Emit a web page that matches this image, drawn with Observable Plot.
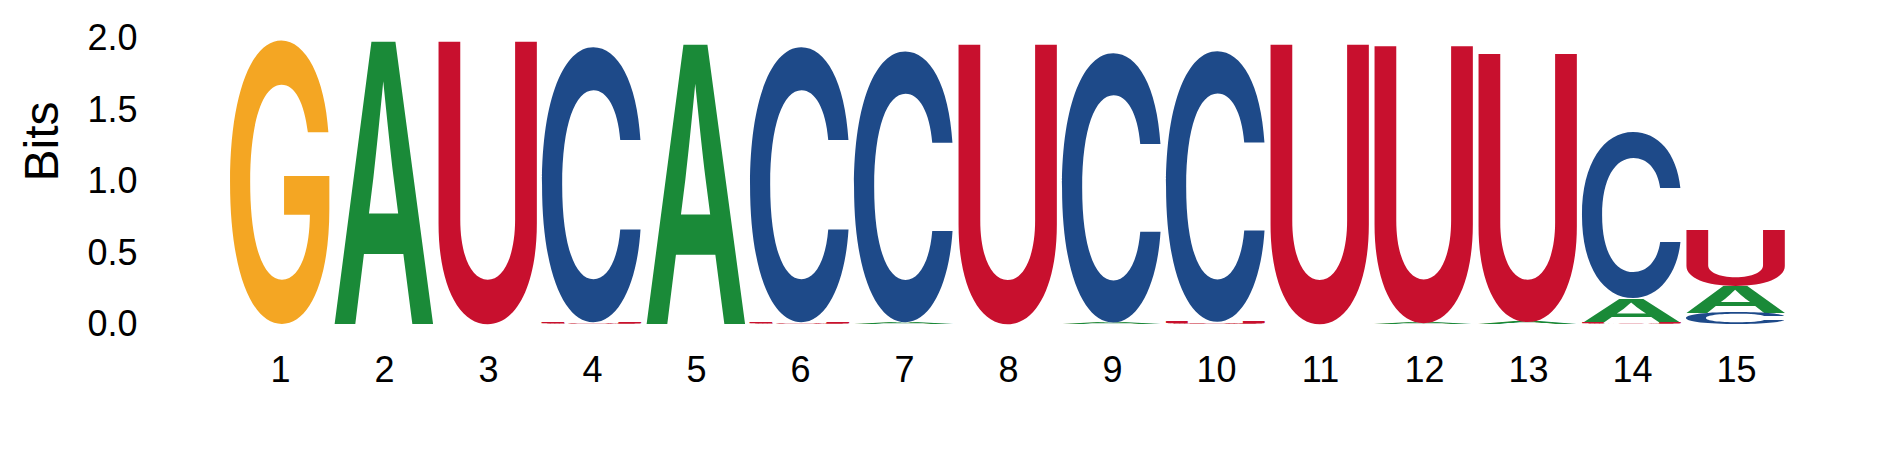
<!DOCTYPE html>
<html>
<head>
<meta charset="utf-8">
<script src="https://cdn.jsdelivr.net/npm/d3@7"></script>
<script src="https://cdn.jsdelivr.net/npm/@observablehq/plot@0.6"></script>
<style>
  html, body { margin: 0; padding: 0; background: #fff; }
  svg { display: block; }
</style>
</head>
<body>
<div id="chart"></div>
<script>
// Positions along the sequence
const positions = [1, 2, 3, 4, 5, 6, 7, 8, 9, 10, 11, 12, 13, 14, 15];
// Information content (bits) per nucleotide at each position
const bitsA = [0, 1.98, 0, 0, 1.96, 0, 0.012, 0, 0.01, 0, 0, 0.008, 0.015, 0.17, 0.19];
const bitsC = [0, 0, 0, 1.93, 0, 1.93, 1.90, 0, 1.89, 1.90, 0, 0, 0, 1.17, 0.08];
const bitsG = [1.99, 0, 0, 0, 0, 0, 0, 0, 0, 0, 0, 0, 0, 0, 0];
const bitsU = [0, 0, 1.98, 0.012, 0, 0.012, 0, 1.96, 0, 0.015, 1.96, 1.94, 1.88, 0.01, 0.39];
const yTicks = [0, 0.5, 1.0, 1.5, 2.0];
const yLabel = "Bits";
const colors = {A: "#1A8A38", C: "#1E4A89", G: "#F4A623", U: "#C8102E"};

const series = {A: bitsA, C: bitsC, G: bitsG, U: bitsU};
const rows = [];
for (const [letter, vals] of Object.entries(series)) {
  vals.forEach((v, i) => { if (v > 0) rows.push({pos: positions[i], letter, bits: v}); });
}

const FONT = "'Liberation Sans', Arial, sans-serif";
const GLYPH_FONT = "Inter, 'Liberation Sans', Arial, sans-serif";
const GLYPH_WEIGHT = "600";

const chart = Plot.plot({
  width: 1889,
  height: 472,
  marginTop: 38,
  marginBottom: 148,
  marginLeft: 227,
  marginRight: 100,
  style: {fontFamily: FONT, fontSize: "36px", color: "#000", background: "#fff"},
  x: {domain: positions, paddingInner: 0.04, paddingOuter: 0.02, label: null},
  y: {domain: [0, 2], label: null},
  marks: [
    Plot.barY(rows, Plot.stackY({
      x: "pos",
      y: "bits",
      fill: d => colors[d.letter],
      title: "letter",
      order: "value"
    })),
    Plot.axisY({ticks: yTicks, tickSize: 0, tickPadding: 90, tickFormat: d3.format(".1f"), label: null}),
    Plot.axisX({tickSize: 0, tickPadding: 32, label: null}),
    Plot.text([yLabel], {frameAnchor: "left", dx: -185, rotate: -90, fontSize: 48, text: d => d})
  ]
});

document.getElementById("chart").appendChild(chart);

// Replace each stacked rect by its letter glyph stretched to fill the rect
const canvas = document.createElement("canvas");
const ctx = canvas.getContext("2d");
ctx.font = GLYPH_WEIGHT + " 100px " + GLYPH_FONT;
const svgNS = "http://www.w3.org/2000/svg";
chart.querySelectorAll('g[aria-label="bar"] rect').forEach(rect => {
  const titleEl = rect.querySelector("title");
  const letter = titleEl ? titleEl.textContent : "";
  const x = +rect.getAttribute("x"), y = +rect.getAttribute("y");
  const w = +rect.getAttribute("width"), h = +rect.getAttribute("height");
  const fill = rect.getAttribute("fill");
  const m = ctx.measureText(letter);
  const left = -m.actualBoundingBoxLeft, right = m.actualBoundingBoxRight;
  const top = -m.actualBoundingBoxAscent, bottom = m.actualBoundingBoxDescent;
  const sx = w / (right - left), sy = h / (bottom - top);
  const t = document.createElementNS(svgNS, "text");
  t.textContent = letter;
  t.setAttribute("x", 0);
  t.setAttribute("y", 0);
  t.setAttribute("fill", fill);
  t.setAttribute("font-family", GLYPH_FONT);
  t.setAttribute("font-weight", GLYPH_WEIGHT);
  t.setAttribute("font-size", 100);
  t.setAttribute("text-anchor", "start");
  t.setAttribute("transform", `translate(${x},${y}) scale(${sx},${sy}) translate(${-left},${-top})`);
  rect.parentNode.insertBefore(t, rect);
  rect.remove();
});
const barGroup = chart.querySelector('g[aria-label="bar"]');
if (barGroup) barGroup.removeAttribute("shape-rendering");
</script>
</body>
</html>
